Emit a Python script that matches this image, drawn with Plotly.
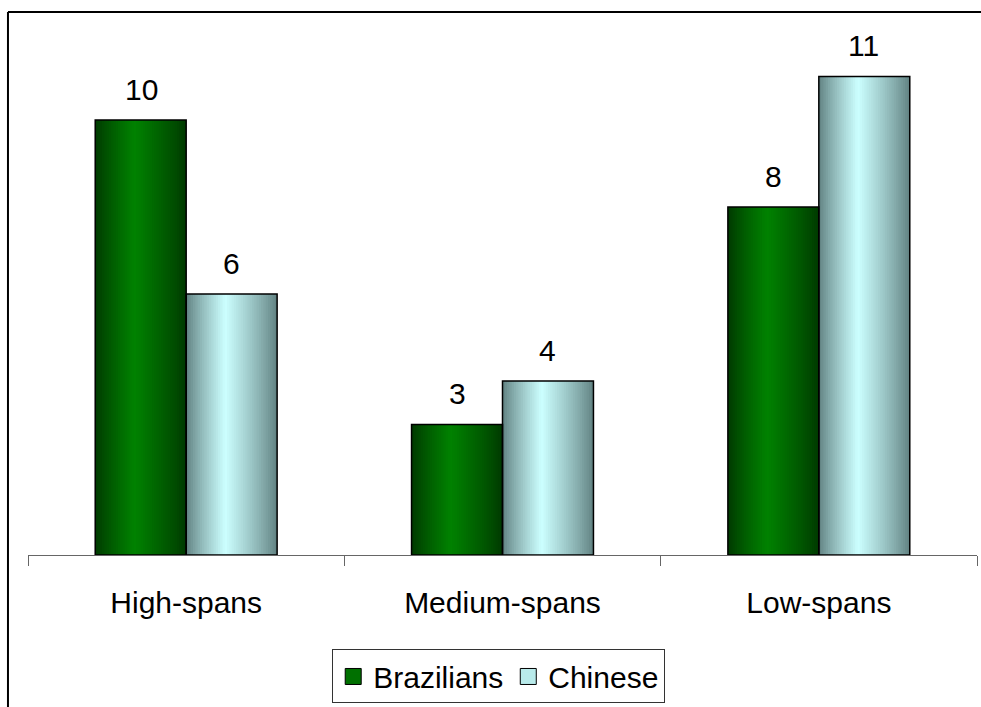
import plotly.graph_objects as go

categories = ["High-spans", "Medium-spans", "Low-spans"]
brazilians = [10, 3, 8]
chinese = [6, 4, 11]
series_names = ["Brazilians", "Chinese"]

FONT = "Liberation Sans, Arial, sans-serif"
BAR_W = 0.2875
N = 40

edge_cols = [(0, 56, 0), (95, 127, 127)]
center_cols = [(0, 130, 0), (204, 255, 255)]
legend_cols = ["#007000", "#b8eaea"]


def grad(edge, center, t, peak=0.43):
    f = t / peak if t < peak else (1 - t) / (1 - peak)
    f = max(0.0, min(1.0, f))
    f = f ** 0.85
    c = [round(e + (m - e) * f) for e, m in zip(edge, center)]
    return "rgb(%d,%d,%d)" % tuple(c)


fig = go.Figure()
all_vals = [brazilians, chinese]
offsets = [-BAR_W, 0.0]

# gradient slices
for s, vals in enumerate(all_vals):
    sw = BAR_W / N
    for i in range(N):
        t = (i + 0.5) / N
        w = sw * 1.7 if i < N - 1 else sw
        fig.add_trace(go.Bar(
            x=categories, y=vals, width=w, offset=offsets[s] + i * sw,
            marker=dict(color=grad(edge_cols[s], center_cols[s], t), line=dict(width=0)),
            showlegend=False, hoverinfo="skip"))

# outlines
for s, vals in enumerate(all_vals):
    fig.add_trace(go.Bar(
        x=categories, y=vals, width=BAR_W, offset=offsets[s],
        marker=dict(color="rgba(0,0,0,0)", line=dict(color="black", width=1.5)),
        showlegend=False, name=series_names[s]))

# legend entries
for s in range(2):
    fig.add_trace(go.Scatter(
        x=[None], y=[None], mode="markers", name=series_names[s],
        marker=dict(symbol="square", size=17, color=legend_cols[s],
                    line=dict(color="black", width=1))))

# data labels
for s, vals in enumerate(all_vals):
    shift = -45 if s == 0 else 45
    for c, v in zip(categories, vals):
        fig.add_annotation(x=c, y=v, text=str(v), showarrow=False,
                           xshift=shift, yshift=31, yanchor="middle",
                           font=dict(size=30, color="black", family=FONT))

# outer frame (left and top visible)
fig.add_shape(type="line", xref="paper", yref="paper",
              x0=-0.0211, x1=-0.0211, y0=1.040, y1=-0.5,
              line=dict(color="black", width=2))
fig.add_shape(type="line", xref="paper", yref="paper",
              x0=-0.0211, x1=1.005, y0=1.040, y1=1.040,
              line=dict(color="black", width=2))

fig.update_layout(
    width=981, height=707,
    margin=dict(l=28, r=4, t=33, b=150),
    barmode="overlay",
    plot_bgcolor="white", paper_bgcolor="white",
    font=dict(family=FONT, size=30, color="black"),
    xaxis=dict(type="category", range=[-0.5, 2.5], showline=True,
               linecolor="#666666", linewidth=1, ticks="outside",
               tickson="boundaries", ticklen=10, tickcolor="#666666",
               ticklabelstandoff=21,
               showgrid=False, zeroline=False,
               tickfont=dict(size=30, family=FONT, color="black")),
    yaxis=dict(range=[0, 12], visible=False, showgrid=False, zeroline=False),
    legend=dict(orientation="h", x=0.496, xanchor="center", y=-0.181, yanchor="top",
                bordercolor="#333333", borderwidth=1, bgcolor="white",
                font=dict(size=30, family=FONT, color="black")),
)

fig.write_html("out.html", config={"displayModeBar": False})
